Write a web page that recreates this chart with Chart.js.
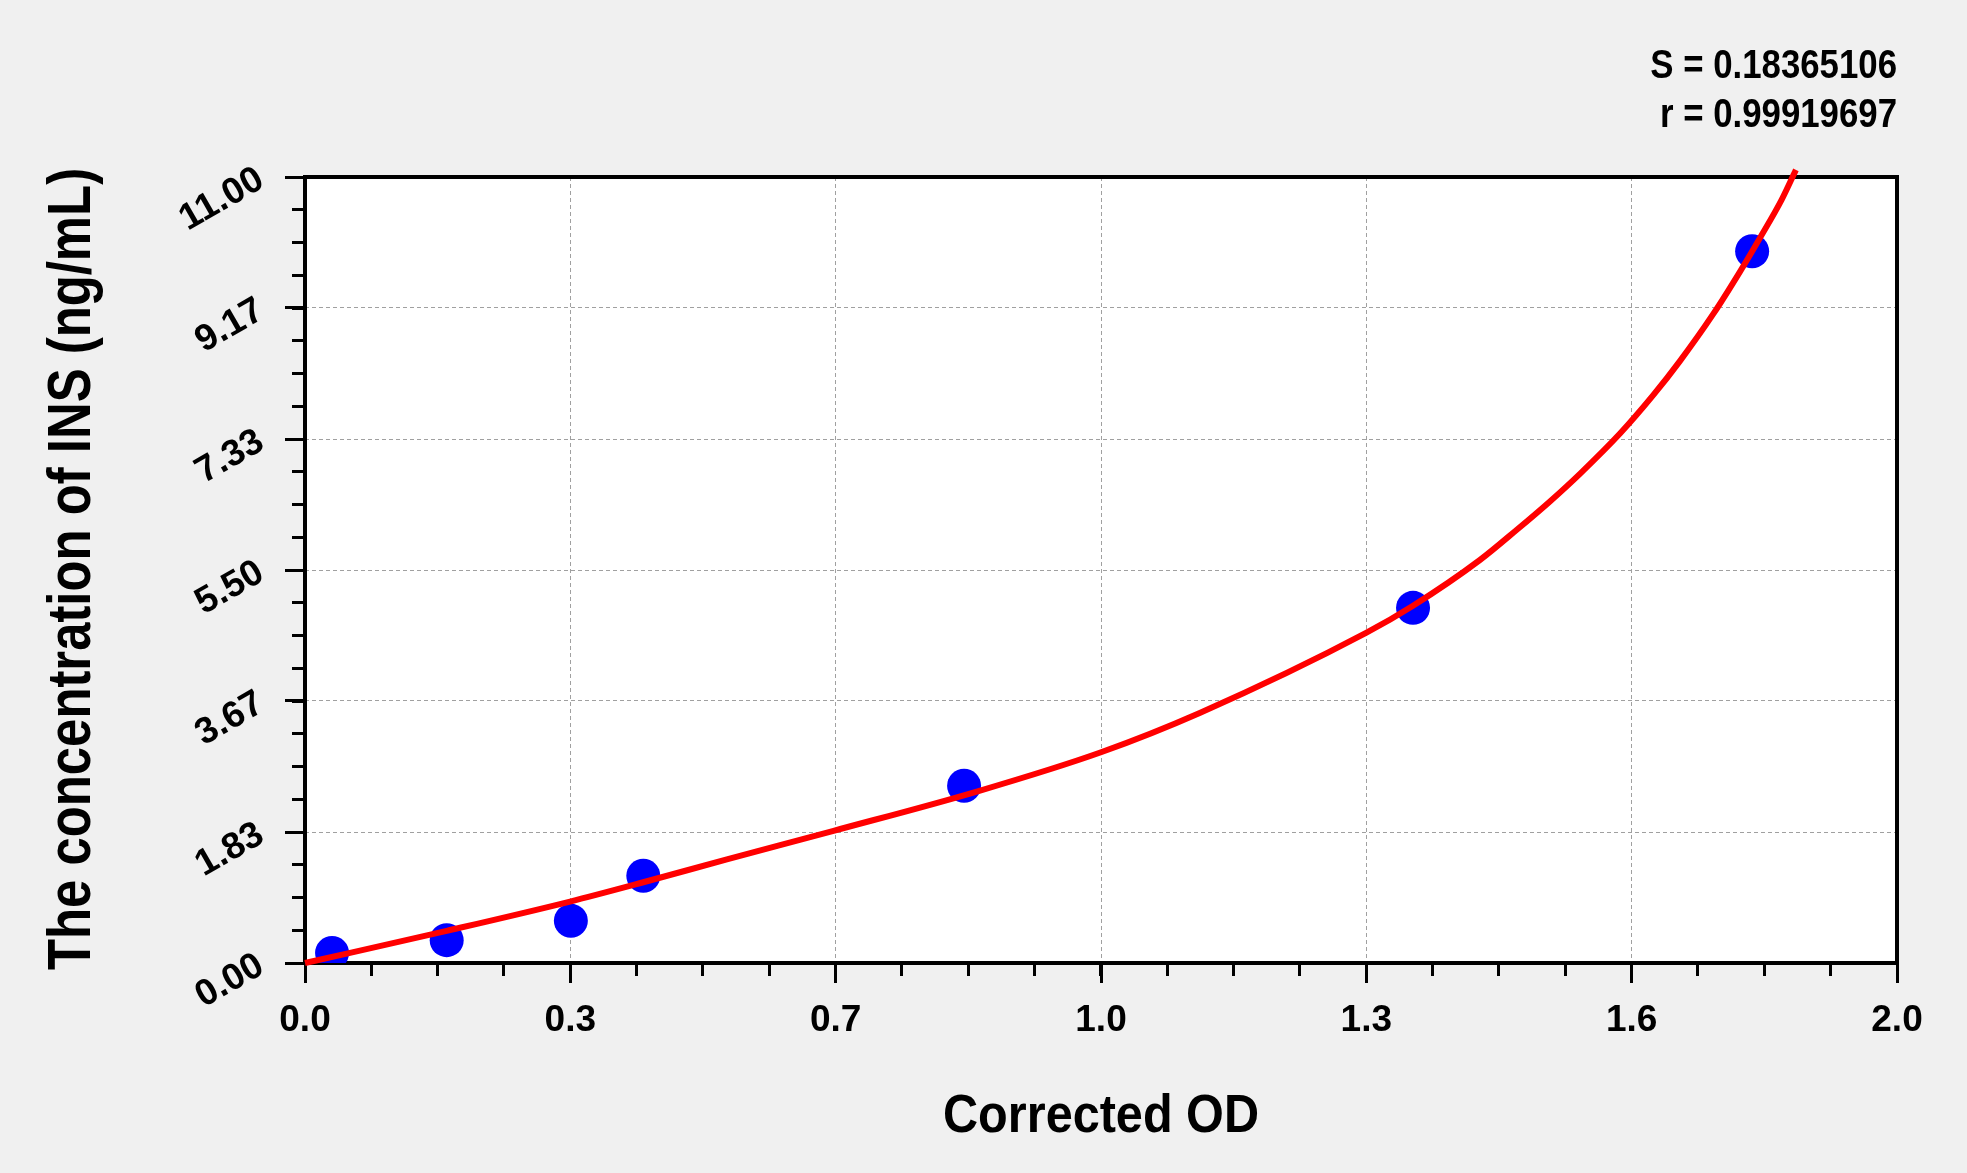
<!DOCTYPE html>
<html>
<head>
<meta charset="utf-8">
<script src="https://cdn.jsdelivr.net/npm/chart.js@4/dist/chart.umd.min.js"></script>
<style>
  html, body { margin: 0; padding: 0; background: #f0f0f0; }
  canvas { display: block; }
</style>
</head>
<body>
<canvas id="curve" width="1967" height="1173"></canvas>
<script>
// standard points (corrected OD vs concentration)
const odValues = [0.034, 0.178, 0.334, 0.425, 0.828, 1.392, 1.818]
const concValues = [0.14, 0.32, 0.59, 1.22, 2.48, 4.97, 9.96]

// fitted curve
const fitOd = [0, 0.178, 0.333, 0.425, 0.530, 0.664, 0.844, 1.0, 1.124, 1.333, 1.392, 1.476, 1.522, 1.564, 1.602,
    1.652, 1.694, 1.727, 1.769, 1.803, 1.828, 1.855, 1.873]
const fitConc = [0, 0.45, 0.86, 1.13, 1.45, 1.85, 2.40, 2.95, 3.50, 4.62, 5.00, 5.64, 6.06, 6.46, 6.85,
    7.41, 7.95, 8.42, 9.08, 9.68, 10.15, 10.68, 11.10]

const xTickValues = [0, 0.3333, 0.6667, 1, 1.3333, 1.6667, 2]
const xTickLabels = ['0.0', '0.3', '0.7', '1.0', '1.3', '1.6', '2.0']
const yTickValues = [0, 1.8333, 3.6667, 5.5, 7.3333, 9.1667, 11]
const yTickLabels = ['0.00', '1.83', '3.67', '5.50', '7.33', '9.17', '11.00']

const xTitle = 'Corrected OD'
const yTitle = 'The concentration of INS (ng/mL)'
const statLines = ['S = 0.18365106', 'r = 0.99919697']

const FONT = '"Liberation Sans", Arial, sans-serif'

const framePlugin = {
    id: 'frame',
    beforeDraw(chart) {
        const a = chart.chartArea
        const ctx = chart.ctx
        ctx.save()
        ctx.fillStyle = '#ffffff'
        ctx.fillRect(a.left, a.top, a.right - a.left, a.bottom - a.top)
        ctx.restore()
    },
    beforeDatasetsDraw(chart) {
        const a = chart.chartArea
        const ctx = chart.ctx
        ctx.save()
        ctx.strokeStyle = '#000'
        ctx.lineWidth = 4
        ctx.strokeRect(a.left, a.top, a.right - a.left, a.bottom - a.top)
        ctx.restore()
    },
    afterDraw(chart) {
        const a = chart.chartArea
        const ctx = chart.ctx
        ctx.save()
        ctx.fillStyle = '#000'

        // x title
        ctx.font = 'bold 54px ' + FONT
        ctx.textAlign = 'center'
        ctx.textBaseline = 'alphabetic'
        ctx.save()
        ctx.translate((a.left + a.right) / 2, 1132)
        ctx.scale(0.9, 1)
        ctx.fillText(xTitle, 0, 0)
        ctx.restore()

        // y title
        ctx.font = 'bold 62px ' + FONT
        ctx.textBaseline = 'middle'
        ctx.save()
        ctx.translate(73, (a.top + a.bottom) / 2 - 1)
        ctx.rotate(-Math.PI / 2)
        ctx.scale(0.82, 1)
        ctx.fillText(yTitle, 0, 0)
        ctx.restore()

        // fit statistics
        ctx.font = 'bold 40px ' + FONT
        ctx.textAlign = 'right'
        ctx.textBaseline = 'alphabetic'
        statLines.forEach((line, i) => {
            ctx.save()
            ctx.translate(a.right, 78 + i * 49)
            ctx.scale(0.87, 1)
            ctx.fillText(line, 0, 0)
            ctx.restore()
        })
        ctx.restore()
    }
}

const majorGrid = {
    color: '#a0a0a0',
    lineWidth: 1,
    tickColor: '#000',
    tickWidth: 3,
    tickLength: 20,
    tickBorderDash: []
}
const minorGrid = {
    drawOnChartArea: false,
    tickColor: '#000',
    tickWidth: 3,
    tickLength: 13,
    tickBorderDash: []
}

new Chart(document.getElementById('curve'), {
    type: 'scatter',
    data: {
        datasets: [
            {
                label: 'fit',
                data: fitOd.map((x, i) => ({ x: x, y: fitConc[i] })),
                showLine: true,
                borderColor: '#ff0000',
                borderWidth: 6,
                pointRadius: 0,
                cubicInterpolationMode: 'monotone',
                clip: false,
                order: 0
            },
            {
                label: 'standards',
                data: odValues.map((x, i) => ({ x: x, y: concValues[i] })),
                backgroundColor: '#0000ff',
                borderWidth: 0,
                pointRadius: 17,
                pointHoverRadius: 17,
                order: 1
            }
        ]
    },
    options: {
        responsive: false,
        animation: false,
        devicePixelRatio: 1,
        layout: { padding: { left: 0, right: 70, top: 177, bottom: 0 } },
        plugins: { legend: { display: false }, tooltip: { enabled: false } },
        scales: {
            x: {
                type: 'linear', position: 'bottom', weight: 1,
                min: 0, max: 2,
                afterBuildTicks: s => { s.ticks = xTickValues.map(v => ({ value: v })) },
                afterFit: s => { s.height = 210 },
                grid: majorGrid,
                border: { display: false, dash: [4, 3] },
                ticks: {
                    padding: 16,
                    maxRotation: 0,
                    color: '#000',
                    font: { family: FONT, size: 37, weight: 'bold' },
                    callback: (v, i) => xTickLabels[i]
                }
            },
            xMinor: {
                type: 'linear', position: 'bottom', weight: 0,
                min: 0, max: 2,
                afterFit: s => { s.height = 0 },
                grid: minorGrid,
                border: { display: false },
                ticks: { display: false, stepSize: 0.083333 }
            },
            y: {
                type: 'linear', position: 'left', weight: 1,
                min: 0, max: 11,
                afterBuildTicks: s => { s.ticks = yTickValues.map(v => ({ value: v })) },
                afterFit: s => { s.width = 305 },
                grid: majorGrid,
                border: { display: false, dash: [4, 3] },
                ticks: {
                    padding: 24,
                    minRotation: 30,
                    maxRotation: 30,
                    color: '#000',
                    font: { family: FONT, size: 37, weight: 'bold' },
                    callback: (v, i) => yTickLabels[i]
                }
            },
            yMinor: {
                type: 'linear', position: 'left', weight: 0,
                min: 0, max: 11,
                afterFit: s => { s.width = 0 },
                grid: minorGrid,
                border: { display: false },
                ticks: { display: false, stepSize: 0.458333 }
            }
        }
    },
    plugins: [framePlugin]
})
</script>
</body>
</html>
